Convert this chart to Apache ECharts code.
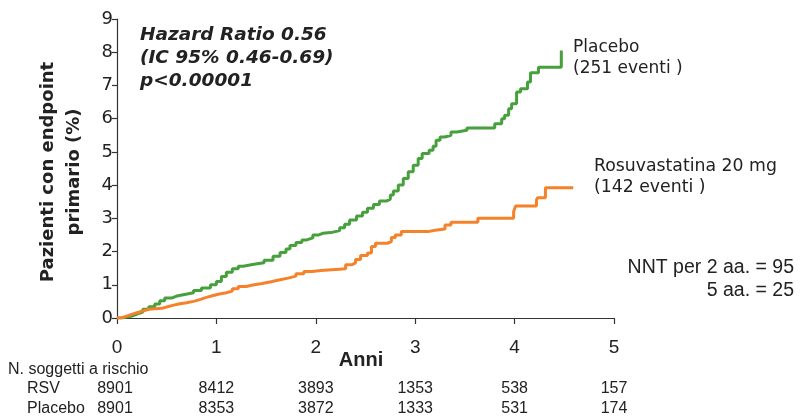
<!DOCTYPE html>
<html>
<head>
<meta charset="utf-8">
<script src="https://cdn.jsdelivr.net/npm/echarts@6/dist/echarts.min.js"></script>
<style>html,body{margin:0;padding:0;background:#fff}#c{width:804px;height:417px}</style>
</head>
<body>
<div id="c"></div>
<script>
// ---- data ----
const xTicks = [0, 1, 2, 3, 4, 5];
const yTicks = [0, 1, 2, 3, 4, 5, 6, 7, 8, 9];
const placeboT = [0,0.05,0.1,0.15,0.2,0.26,0.32,0.38,0.43,0.48,0.55,0.6,0.68,0.77,0.85,0.94,1.0,1.05,1.1,1.16,1.22,1.27,1.35,1.41,1.48,1.57,1.64,1.7,1.74,1.8,1.86,1.91,1.97,2.03,2.07,2.15,2.24,2.29,2.34,2.41,2.47,2.52,2.58,2.64,2.71,2.75,2.78,2.83,2.88,2.93,2.98,3.03,3.07,3.14,3.18,3.21,3.25,3.3,3.36,3.42,3.52,3.8,3.87,3.9,3.94,3.97,4.02,4.06,4.13,4.16,4.24,4.47];
const placeboY = [0,0.03,0.06,0.12,0.18,0.26,0.34,0.42,0.52,0.6,0.66,0.71,0.76,0.83,0.9,1.0,1.1,1.25,1.38,1.48,1.56,1.6,1.63,1.66,1.74,1.86,1.97,2.08,2.18,2.27,2.35,2.41,2.5,2.55,2.57,2.63,2.72,2.82,2.95,3.07,3.18,3.3,3.42,3.52,3.58,3.7,3.82,4.0,4.2,4.4,4.6,4.8,4.95,5.05,5.17,5.35,5.45,5.5,5.6,5.65,5.72,5.85,6.0,6.1,6.3,6.45,6.8,6.9,7.1,7.38,7.55,8.05];
const rosuT = [0,0.04,0.09,0.14,0.2,0.26,0.32,0.45,0.5,0.56,0.62,0.7,0.77,0.84,0.9,0.96,1.03,1.1,1.16,1.22,1.3,1.38,1.46,1.55,1.64,1.72,1.8,1.88,1.96,2.05,2.2,2.3,2.36,2.4,2.45,2.52,2.56,2.6,2.72,2.76,2.8,2.86,3.13,3.2,3.3,3.36,3.63,3.99,4.01,4.22,4.23,4.31,4.59];
const rosuY = [0,0.05,0.1,0.16,0.21,0.26,0.29,0.33,0.38,0.42,0.46,0.5,0.56,0.62,0.67,0.72,0.76,0.81,0.88,0.95,1.0,1.04,1.09,1.15,1.2,1.26,1.33,1.4,1.43,1.46,1.48,1.6,1.66,1.76,1.88,1.96,2.15,2.25,2.3,2.42,2.5,2.6,2.64,2.68,2.8,2.88,3.0,3.2,3.37,3.55,3.62,3.92,3.92];
const riskLabels = ['RSV', 'Placebo'];
const riskRSV = [8901, 8412, 3893, 1353, 538, 157];
const riskPlacebo = [8901, 8353, 3872, 1333, 531, 174];

const chart = echarts.init(document.getElementById('c'), null, {renderer: 'canvas'});
const grid = {left: 117, right: 190, top: 19, bottom: 99};
const narrow = "'Liberation Sans Narrow', 'Liberation Sans', Arial, sans-serif";
const verdana = "'DejaVu Sans', Verdana, sans-serif";
const arial = "'Liberation Sans', Arial, sans-serif";

function pairs(t, y) { return t.map((v, i) => [v, y[i]]); }

const graphics = [];
// y-axis title
graphics.push({type: 'text', x: 61, y: 172, rotation: Math.PI / 2,
  style: {text: 'Pazienti con endpoint\nprimario (%)', font: 'bold 18px ' + verdana, fill: '#222',
    textAlign: 'center', textVerticalAlign: 'middle', lineHeight: 26}});
// x-axis title
graphics.push({type: 'text', x: 361, y: 360,
  style: {text: 'Anni', font: 'bold 20px ' + narrow, fill: '#222', textAlign: 'center', textVerticalAlign: 'middle'}});
// annotation
graphics.push({type: 'text', x: 140, y: 24,
  style: {text: 'Hazard Ratio 0.56\n(IC 95% 0.46-0.69)\np<0.00001', font: 'italic bold 18.5px ' + verdana,
    fill: '#222', textAlign: 'left', textVerticalAlign: 'top', lineHeight: 23}});
graphics.push({type: 'text', x: 573, y: 37,
  style: {text: 'Placebo\n(251 eventi )', font: '17px ' + verdana, fill: '#222', textVerticalAlign: 'top', lineHeight: 21}});
graphics.push({type: 'text', x: 594, y: 156,
  style: {text: 'Rosuvastatina 20 mg\n(142 eventi )', font: '17.3px ' + verdana, fill: '#222', textVerticalAlign: 'top', lineHeight: 21}});
graphics.push({type: 'text', x: 794, y: 256,
  style: {text: 'NNT per 2 aa. = 95\n5 aa. = 25', font: '19.5px ' + arial, fill: '#222', textAlign: 'right', textVerticalAlign: 'top', lineHeight: 23}});
graphics.push({type: 'text', x: 8, y: 370,
  style: {text: 'N. soggetti a rischio', font: '16px ' + narrow, fill: '#222', textVerticalAlign: 'middle'}});
const rowY = [389, 409];
[riskRSV, riskPlacebo].forEach((row, r) => {
  graphics.push({type: 'text', x: 27, y: rowY[r],
    style: {text: riskLabels[r], font: '16px ' + narrow, fill: '#222', textVerticalAlign: 'middle'}});
});

chart.setOption({
  animation: false,
  grid: grid,
  xAxis: {type: 'value', min: 0, max: 5, interval: 1,
    axisLine: {lineStyle: {color: '#333', width: 1.2}},
    axisTick: {length: 6, lineStyle: {color: '#333', width: 1.2}},
    axisLabel: {margin: 20, fontFamily: narrow, fontSize: 19, color: '#222'},
    splitLine: {show: false}},
  yAxis: {type: 'value', min: 0, max: 9, interval: 1,
    axisLine: {show: true, lineStyle: {color: '#333', width: 1.2}},
    axisTick: {show: true, length: 5, lineStyle: {color: '#333', width: 1.2}},
    axisLabel: {margin: 4, fontFamily: verdana, fontSize: 18, color: '#222'},
    splitLine: {show: false}},
  series: [
    {name: 'Placebo', type: 'line', step: 'end', showSymbol: false, data: pairs(placeboT, placeboY),
      lineStyle: {color: '#46a03c', width: 3}, itemStyle: {color: '#46a03c'}},
    {name: 'Rosuvastatina 20 mg', type: 'line', step: 'end', showSymbol: false, data: pairs(rosuT, rosuY),
      lineStyle: {color: '#f5822a', width: 3}, itemStyle: {color: '#f5822a'}}
  ],
  graphic: graphics
});

// risk table numbers positioned under x ticks via the axis scale
const extra = [];
[riskRSV, riskPlacebo].forEach((row, r) => {
  row.forEach((v, i) => {
    let px = chart.convertToPixel({xAxisIndex: 0}, xTicks[i]);
    if (i === 0) px -= 2;
    extra.push({type: 'text', x: px, y: rowY[r],
      style: {text: String(v), font: '16px ' + narrow, fill: '#222', textAlign: 'center', textVerticalAlign: 'middle'}});
  });
});
chart.setOption({graphic: graphics.concat(extra)});
</script>
</body>
</html>
